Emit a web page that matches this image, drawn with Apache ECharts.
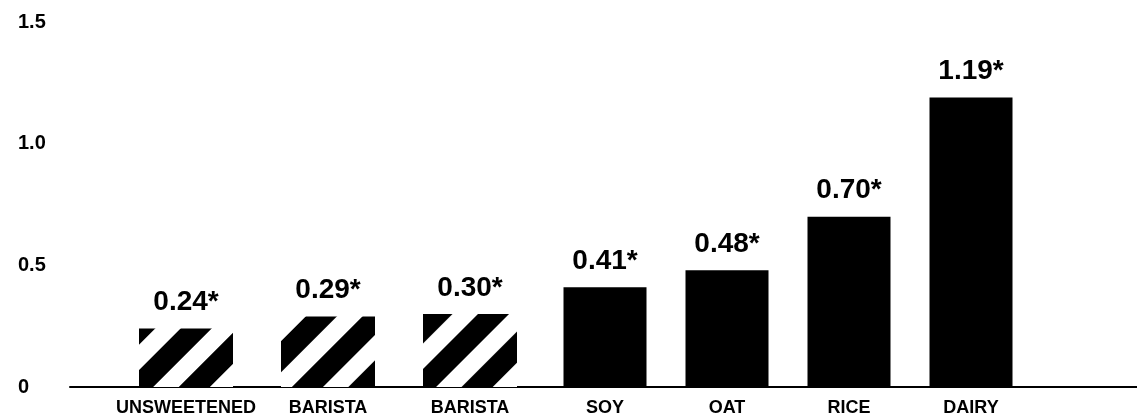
<!DOCTYPE html>
<html>
<head>
<meta charset="utf-8">
<title>Milk types</title>
<script src="https://cdn.jsdelivr.net/npm/echarts@6/dist/echarts.min.js"></script>
<style>
  html, body { margin: 0; padding: 0; background: #fff; }
  #chart { width: 1137px; height: 417px; }
</style>
</head>
<body>
<div id="chart"></div>
<script>
// Hatched group (sweetened/barista variants) and solid group (plain milks)
const hatchedCategories = ['UNSWEETENED', 'BARISTA', 'BARISTA'];
const hatchedValues = [0.24, 0.29, 0.30];
const solidCategories = ['SOY', 'OAT', 'RICE', 'DAIRY'];
const solidValues = [0.41, 0.48, 0.70, 1.19];
const yTicks = { min: 0, max: 1.5, interval: 0.5 };

const FONT = '"Liberation Sans", Arial, Helvetica, sans-serif';
const TOP = 22, BOTTOM = 30;

const catLabel = {
  color: '#000', fontFamily: FONT, fontWeight: 'bold', fontSize: 18, margin: 12,
  interval: 0, hideOverlap: false
};
const valueLabel = {
  show: true, position: 'top', distance: 12,
  color: '#000', fontFamily: FONT, fontWeight: 'bold', fontSize: 28,
  formatter: p => p.value.toFixed(2) + '*'
};
const hiddenY = (gi) => ({
  gridIndex: gi, type: 'value', min: yTicks.min, max: yTicks.max, interval: yTicks.interval,
  show: false
});

const chart = echarts.init(document.getElementById('chart'), null, { renderer: 'canvas' });
chart.setOption({
  backgroundColor: '#fff',
  animation: false,
  grid: [
    { left: 70, right: 0, top: TOP, bottom: BOTTOM },          // frame: y labels + baseline
    { left: 115, width: 426, top: TOP, bottom: BOTTOM },       // hatched bars
    { left: 544, width: 488, top: TOP, bottom: BOTTOM }        // solid bars
  ],
  xAxis: [
    {
      gridIndex: 0, type: 'value', min: 0, max: 1,
      axisLine: { show: true, onZero: false, lineStyle: { color: '#000', width: 2 } },
      axisTick: { show: false }, axisLabel: { show: false }, splitLine: { show: false }
    },
    {
      gridIndex: 1, type: 'category', data: hatchedCategories,
      axisLine: { show: false }, axisTick: { show: false }, axisLabel: catLabel
    },
    {
      gridIndex: 2, type: 'category', data: solidCategories,
      axisLine: { show: false }, axisTick: { show: false }, axisLabel: catLabel
    }
  ],
  yAxis: [
    {
      gridIndex: 0, type: 'value', min: yTicks.min, max: yTicks.max, interval: yTicks.interval,
      axisLine: { show: false }, axisTick: { show: false }, splitLine: { show: false },
      axisLabel: {
        color: '#000', fontFamily: FONT, fontWeight: 'bold', fontSize: 20,
        align: 'left', margin: 52, padding: [0, 0, 5, 0],
        formatter: v => (v === 0 ? '0' : v.toFixed(1))
      }
    },
    hiddenY(1),
    hiddenY(2)
  ],
  series: [
    {
      type: 'bar', xAxisIndex: 1, yAxisIndex: 1,
      data: hatchedValues, barWidth: 94,
      itemStyle: {
        color: '#fff',
        decal: {
          symbol: 'rect', symbolSize: 1, color: '#000',
          dashArrayX: [1, 0], dashArrayY: [22, 18], rotation: -Math.PI / 4
        }
      },
      label: valueLabel
    },
    {
      type: 'bar', xAxisIndex: 2, yAxisIndex: 2,
      data: solidValues, barWidth: 83,
      itemStyle: { color: '#000' },
      label: valueLabel
    }
  ]
});
</script>
</body>
</html>
